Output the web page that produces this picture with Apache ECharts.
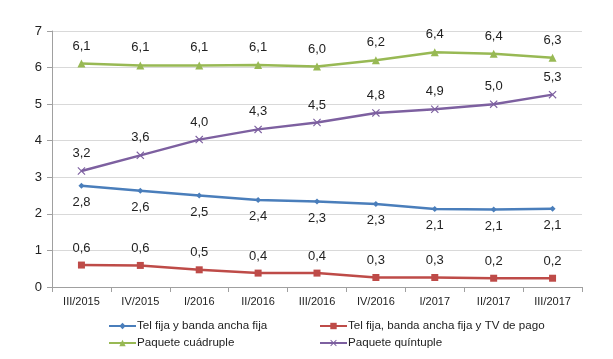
<!DOCTYPE html>
<html><head><meta charset="utf-8">
<script src="https://cdn.jsdelivr.net/npm/echarts@6/dist/echarts.min.js"></script>
<style>html,body{margin:0;padding:0;background:#fff}#c{width:613px;height:359px}</style>
</head><body><div id="c"></div>
<script>
var categories = ['III/2015','IV/2015','I/2016','II/2016','III/2016','IV/2016','I/2017','II/2017','III/2017'];
var telBanda = [2.77, 2.63, 2.50, 2.38, 2.34, 2.27, 2.13, 2.12, 2.14];
var telBandaTv = [0.60, 0.59, 0.47, 0.38, 0.38, 0.26, 0.26, 0.24, 0.24];
var cuadruple = [6.11, 6.06, 6.06, 6.07, 6.03, 6.20, 6.42, 6.38, 6.27];
var quintuple = [3.17, 3.60, 4.03, 4.31, 4.50, 4.76, 4.86, 5.00, 5.26];
var yTicks = [0, 1, 2, 3, 4, 5, 6, 7];

var fmt = function(p){ return p.value.toFixed(1).replace('.', ','); };
var crossPath = 'path://M0,1L1,0L5,4L9,0L10,1L6,5L10,9L9,10L5,6L1,10L0,9L4,5Z';
function mk(name, data, color, symbol, size, pos){
  return {
    name: name, type: 'line', data: data, symbol: symbol, symbolSize: size,
    lineStyle: {color: color, width: 2.5}, itemStyle: {color: color},
    label: {show: true, position: pos, distance: 7, formatter: fmt,
            fontFamily: 'Liberation Sans, Arial', fontSize: 13, color: '#222'},
    emphasis: {disabled: true}, animation: false
  };
}
var legendText = {fontFamily: 'Liberation Sans, Arial', fontSize: 11.6, color: '#222', padding: [0,0,0,-4]};
var chart = echarts.init(document.getElementById('c'));
chart.setOption({
  animation: false,
  grid: {left: 52, right: 31, top: 31, bottom: 72},
  legend: [{
    left: 103, top: 315, orient: 'vertical', itemGap: 5, itemWidth: 27, itemHeight: 8,
    data: ['Tel fija y banda ancha fija', 'Paquete cuádruple'],
    textStyle: legendText
  },{
    left: 314, top: 315, orient: 'vertical', itemGap: 5, itemWidth: 27, itemHeight: 8,
    data: ['Tel fija, banda ancha fija y TV de pago', 'Paquete quíntuple'],
    textStyle: legendText
  }],
  xAxis: {
    type: 'category', data: categories, boundaryGap: true,
    axisLine: {lineStyle: {color: '#a0a0a0'}},
    axisTick: {show: true, alignWithLabel: false, length: 5, lineStyle: {color: '#a0a0a0'}},
    axisLabel: {fontFamily: 'Liberation Sans, Arial', fontSize: 11, color: '#222', margin: 9}
  },
  yAxis: {
    type: 'value', min: 0, max: 7, interval: 1,
    axisLine: {show: true, lineStyle: {color: '#a0a0a0'}},
    axisTick: {show: true, length: 5, lineStyle: {color: '#a0a0a0'}},
    splitLine: {lineStyle: {color: '#d9d9d9'}},
    axisLabel: {fontFamily: 'Liberation Sans, Arial', fontSize: 13, color: '#222', margin: 10,
      formatter: function(v){ return yTicks.indexOf(v) >= 0 ? String(v) : ''; }}
  },
  series: [
    mk('Tel fija y banda ancha fija', telBanda, '#4a7ebb', 'diamond', 6, 'bottom'),
    mk('Tel fija, banda ancha fija y TV de pago', telBandaTv, '#be4b48', 'rect', 7, 'top'),
    mk('Paquete cuádruple', cuadruple, '#98b954', 'triangle', 8, 'top'),
    mk('Paquete quíntuple', quintuple, '#7d60a0', crossPath, 8, 'top')
  ]
});
</script></body></html>
